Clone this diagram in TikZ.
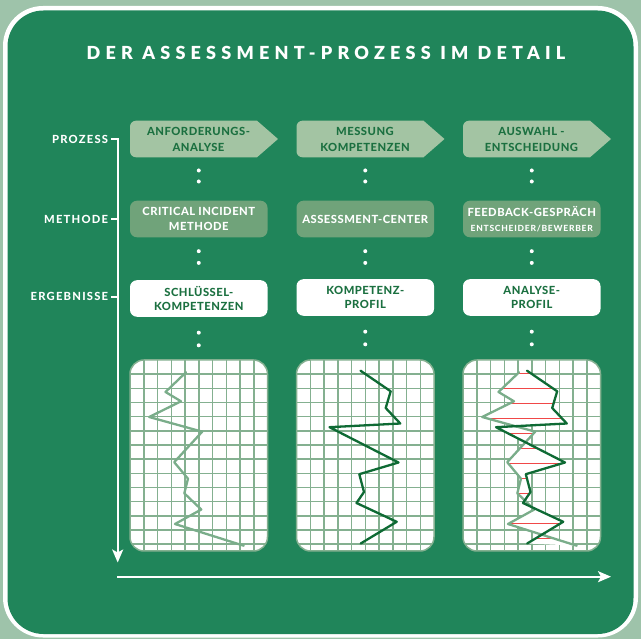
\documentclass[tikz,border=0pt]{standalone}
\usepackage{fontspec}
\setmainfont{Lato}
\newfontfamily\titlefont[LetterSpace=29]{Lato Black}
\newfontfamily\labelfont[LetterSpace=11]{Lato Heavy}
\newfontfamily\boxfont[LetterSpace=4.5]{Lato Heavy}
\newfontfamily\smallboxfont[LetterSpace=9]{Lato Heavy}
\usepackage{tikz}
\usetikzlibrary{arrows.meta,calc}
\definecolor{outerbg}{RGB}{158,195,170}
\definecolor{darkbg}{RGB}{32,133,90}
\definecolor{procfill}{RGB}{163,196,163}
\definecolor{methfill}{RGB}{112,163,122}
\definecolor{txtgreen}{RGB}{27,112,64}
\definecolor{gridgreen}{RGB}{132,176,144}
\definecolor{curvelight}{RGB}{122,173,138}
\definecolor{curvedark}{RGB}{14,106,52}
\definecolor{redline}{RGB}{240,72,72}
\def\lightcurve{(56,12.3) -- (35.5,32) -- (51,41.3) -- (19.2,57) -- (72.2,71.7) -- (44.2,102.2) -- (58,118.7) -- (54.3,133.3) -- (71.3,149.5) -- (45,164) -- (113.7,185.7)}
\def\darkcurve{(64,10.7) -- (94.2,31.3) -- (89.2,48) -- (103.8,63.5) -- (33,67.2) -- (102,102.5) -- (62.8,114.2) -- (67.5,132) -- (60,143) -- (100.2,161.8) -- (64.2,183.5)}
\def\darkback{(64.2,183.5) -- (100.2,161.8) -- (60,143) -- (67.5,132) -- (62.8,114.2) -- (102,102.5) -- (33,67.2) -- (103.8,63.5) -- (89.2,48) -- (94.2,31.3) -- (64,10.7)}
\tikzset{
  rowlabel/.style={anchor=base east,text=white,inner sep=0,font=\labelfont\fontsize{11.2}{15}\selectfont},
  proctext/.style={align=center,text=txtgreen,inner sep=0,font=\boxfont\fontsize{11.2}{15.4}\selectfont},
  methbox/.style={rectangle,rounded corners=7pt,fill=methfill,minimum width=137.5pt,minimum height=36.6pt,align=center,text=white,inner sep=0,font=\boxfont\fontsize{11.2}{15.4}\selectfont},
  resbox/.style={methbox,fill=white,text=txtgreen,font=\boxfont\fontsize{11.2}{14.6}\selectfont},
  gridline/.style={gridgreen,line width=1.5pt},
  axisline/.style={white,line width=2pt,line cap=butt},
  axisarrow/.style={axisline,-{Stealth[length=13pt,width=11pt,inset=3pt]}}
}
\begin{document}
\begin{tikzpicture}[line cap=round,line join=round,x=1.0pt,y=-1.0pt]
\useasboundingbox (0,0) rectangle (641,639);
\fill[outerbg] (0,0) rectangle (641,639);
\fill[white,rounded corners=40pt] (3,6) rectangle (638,637.5);
\fill[darkbg,rounded corners=36pt] (7.5,10.5) rectangle (633.5,634);
\node[anchor=base,text=white,inner sep=0,font=\titlefont\fontsize{18}{20}\selectfont] (title) at (326,59.5) {DER ASSESSMENT-PROZESS IM DETAIL};

\foreach \c in {130,296.5,463}
  \fill[procfill] (\c+148,139) -- (\c+127,157.3) {[rounded corners=6pt] -- (\c,157.3) -- (\c,120.7)} -- (\c+127,120.7) -- cycle;
\node[proctext] (p1) at (198.5,139.5) {ANFORDERUNGS-\\ANALYSE};
\node[proctext] (p2) at (365,139.5) {MESSUNG\\KOMPETENZEN};
\node[proctext] (p3) at (531.5,139.5) {AUSWAHL -\\ENTSCHEIDUNG};

\node[methbox] (m1) at (198.75,219) {CRITICAL INCIDENT\\METHODE};
\node[methbox] (m2) at (365.25,219) {ASSESSMENT-CENTER};
\node[methbox] (m3) at (531.75,219) {FEEDBACK-GESPRÄCH\\{\smallboxfont\fontsize{8.5}{10}\selectfont ENTSCHEIDER/BEWERBER}};

\node[resbox] (r1) at (198.75,298.5) {SCHLÜSSEL-\\KOMPETENZEN};
\node[resbox] (r2) at (365.25,297.5) {KOMPETENZ-\\PROFIL};
\node[resbox] (r3) at (531.75,297.5) {ANALYSE-\\PROFIL};

\foreach \i in {1,2,3} {
  \fill[white] ($(m\i.north)+(0,-30)$) circle (2pt);
  \fill[white] ($(m\i.north)+(0,-19)$) circle (2pt);
  \fill[white] ($(m\i.south)+(0,13.7)$) circle (2pt);
  \fill[white] ($(m\i.south)+(0,25.4)$) circle (2pt);
  \fill[white] ($(r\i.south)+(0,15.7)$) circle (2pt);
  \fill[white] ($(r\i.south)+(0,28.3)$) circle (2pt);
}

\foreach \c/\n in {130/1,296.5/2,463/3} {
  \begin{scope}[shift={(\c,360)}]
    \fill[white,rounded corners=14pt] (0,0) rectangle (137.5,191);
    \begin{scope}
      \clip[rounded corners=14pt] (0,0) rectangle (137.5,191);
      \foreach \gx in {1,...,9} \draw[gridline] (\gx*13.75,0) -- (\gx*13.75,191);
      \foreach \gy in {1,...,13} \draw[gridline] (0,\gy*14.17) -- (137.5,\gy*14.17);
    \end{scope}
    \draw[gridline,rounded corners=14pt] (0,0) rectangle (137.5,191);
  \end{scope}
}
\begin{scope}[shift={(130,360)}]
  \draw[curvelight,line width=2.3pt] \lightcurve;
\end{scope}
\begin{scope}[shift={(296.5,360)}]
  \draw[curvedark,line width=2.3pt] \darkcurve;
\end{scope}
\begin{scope}[shift={(463,360)},even odd rule]
  \fill[white] \lightcurve -- \darkback -- cycle;
  \begin{scope}
    \clip \lightcurve -- \darkback -- cycle;
    \foreach \k in {0,...,11} \draw[redline,line width=1.5pt] (0,13.3+15*\k) -- (137.5,13.3+15*\k);
  \end{scope}
  \draw[curvelight,line width=2.3pt] \lightcurve;
  \draw[curvedark,line width=2.3pt] \darkcurve;
\end{scope}

\node[rowlabel] (lprozess) at (108.3,143.3) {PROZESS};
\node[rowlabel] (lmethode) at (108.3,223.3) {METHODE};
\node[rowlabel] (lergebnisse) at (108.3,300.7) {ERGEBNISSE};
\coordinate (axtop) at (117.7,139.3);
\coordinate (axbot) at (117.7,562.5);
\coordinate (axorig) at (117.3,576.7);
\coordinate (axend) at (611,576.7);
\draw[axisarrow] ([yshift=1pt]axtop) -- (axbot);
\draw[axisarrow] (axorig) -- (axend);
\draw[axisline] (111,139.3) -- (axtop);
\draw[axisline] (111,219.3) -- (axtop |- 0,219.3);
\draw[axisline] (111,296.7) -- (axtop |- 0,296.7);
\end{tikzpicture}
\end{document}
